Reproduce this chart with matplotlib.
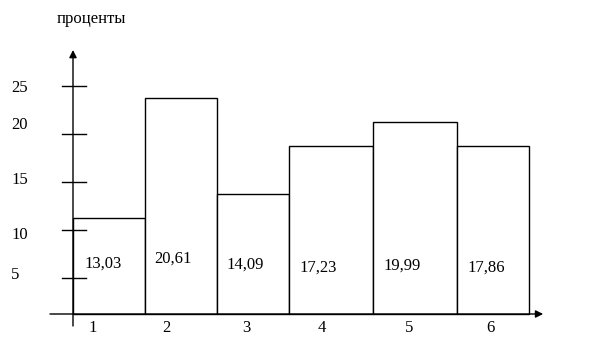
import matplotlib
matplotlib.use("Agg")
import matplotlib.pyplot as plt

plt.rcParams['font.family'] = ['Liberation Serif', 'DejaVu Serif']

# Data
categories = ['1', '2', '3', '4', '5', '6']
bar_heights = [11.25, 23.75, 13.75, 18.75, 21.25, 18.75]   # drawn heights
bar_labels = ['13,03', '20,61', '14,09', '17,23', '19,99', '17,86']
y_ticks = [5, 10, 15, 20, 25]
y_label = 'проценты'

# Style / layout (pixel offsets of the hand-placed labels)
widths = [1.0, 1.0, 1.0, 1.1667, 1.1667, 1.0]
bar_lab_dx = [-6, -8, -8, -13, -13, -7]
bar_lab_y = [264, 259, 265, 268, 266, 268]
cat_dx = [-16, -15, -7, -9, -6, -3]
ytick_dy = [-3, 5, -2, -9, 2]

base = 1.25
PX = 72.0      # pixels per x unit
PY = 9.6       # pixels per y unit
Y0 = 326       # pixel row of y = 0
W, H, DPI = 614, 362, 100
fig = plt.figure(figsize=(W / DPI, H / DPI), dpi=DPI)
ax = fig.add_axes([0, 0, 1, 1])
ax.set_xlim(-73 / PX, (W - 73) / PX)
ax.set_ylim((Y0 - H) / PY, Y0 / PY)
ax.axis('off')

lw = 1.0
fs = 12
left = 0.0
for i, (cat, h, w, lab) in enumerate(zip(categories, bar_heights, widths, bar_labels)):
    ax.bar(left, h - base, width=w, bottom=base, align='edge',
           facecolor='white', edgecolor='black', linewidth=lw, zorder=2)
    cx = left + w / 2
    ax.text(cx + bar_lab_dx[i] / PX, (Y0 - bar_lab_y[i]) / PY, lab,
            ha='center', va='center', fontsize=fs, zorder=3)
    ax.text(cx + cat_dx[i] / PX, (Y0 - 328) / PY, cat, ha='center', va='center', fontsize=fs)
    left += w

# axes with arrows
ax.annotate('', xy=(0, 28.75), xytext=(0, 0),
            arrowprops=dict(arrowstyle='-|>', lw=lw, color='black', mutation_scale=11,
                            shrinkA=0, shrinkB=0), zorder=4)
ax.annotate('', xy=(6.53, base), xytext=(-0.32, base),
            arrowprops=dict(arrowstyle='-|>', lw=lw, color='black', mutation_scale=11,
                            shrinkA=0, shrinkB=0), zorder=4)

for t, dy in zip(y_ticks, ytick_dy):
    ax.plot([-11 / PX, 13 / PX], [t, t], color='black', lw=lw, zorder=4)
    ax.text(-0.86, t - dy / PY, str(t), ha='left', va='center', fontsize=fs)

ax.text(0.26, 32.0, y_label, ha='center', va='center', fontsize=fs)

fig.savefig('out.png', dpi=DPI)
